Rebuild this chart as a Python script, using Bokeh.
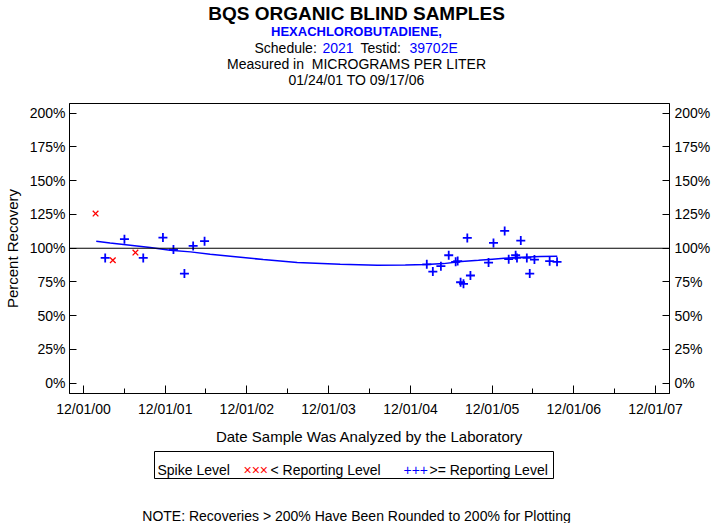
import pandas as pd
from bokeh.plotting import figure
from bokeh.layouts import column
from bokeh.models import (Range1d, FixedTicker, DatetimeTickFormatter, PrintfTickFormatter,
                          LinearAxis, Span)
from bokeh.core.properties import value
from bokeh.embed import file_html
from bokeh.resources import INLINE

FONT = "Liberation Sans"

# ---------------- texts ----------------
title_main = "BQS ORGANIC BLIND SAMPLES"
title_analyte = "HEXACHLOROBUTADIENE,"
schedule_label = "Schedule:"
schedule_value = "2021"
testid_label = "Testid:"
testid_value = "39702E"
units_line = "Measured in\u00a0 MICROGRAMS PER LITER"
period_line = "01/24/01 TO 09/17/06"
x_title = "Date Sample Was Analyzed by the Laboratory"
y_title = "Percent Recovery"
legend_spike = "Spike Level"
legend_below_sym = "\u00d7\u00d7\u00d7"
legend_below = "< Reporting Level"
legend_above_sym = "+++"
legend_above = ">= Reporting Level"
note_text = "NOTE: Recoveries > 200% Have Been Rounded to 200% for Plotting"

# ---------------- data ----------------
below_dates = ["2001-01-24", "2001-04-11", "2001-07-21"]
below_pct = [125.7, 91.1, 96.8]

above_dates = ["2001-03-08", "2001-06-02", "2001-08-25", "2001-11-21", "2002-01-07",
               "2002-02-25", "2002-04-05", "2002-05-26",
               "2005-02-12", "2005-03-11", "2005-04-16", "2005-05-21", "2005-06-21",
               "2005-06-30", "2005-07-13", "2005-07-26", "2005-08-12", "2005-08-26",
               "2005-11-15", "2005-12-07", "2006-01-26", "2006-02-13", "2006-03-16",
               "2006-03-22", "2006-04-08", "2006-05-05", "2006-05-18", "2006-06-08",
               "2006-08-15", "2006-09-17"]
above_pct = [92.8, 106.7, 92.8, 107.9, 99.0,
             81.2, 101.7, 105.2,
             88.1, 82.7, 86.7, 94.8, 89.9,
             90.5, 74.8, 73.6, 107.6, 79.8,
             89.4, 103.9, 112.8, 91.9, 94.8,
             92.8, 105.7, 92.8, 81.2, 91.6,
             90.4, 89.9]

fit_dates = ["2001-01-27", "2001-03-30", "2001-06-28", "2001-09-25", "2001-12-23",
             "2002-03-24", "2002-06-20", "2002-09-18", "2003-02-12", "2003-07-14",
             "2004-01-22", "2004-07-06", "2004-11-08", "2005-02-10", "2005-04-28",
             "2005-07-17", "2005-10-01", "2005-12-02", "2006-01-24", "2006-04-11",
             "2006-07-05", "2006-09-18"]
fit_pct = [105.2, 103.9, 102.2, 100.5, 98.5,
           97.3, 95.6, 94.1, 91.6, 89.4,
           88.1, 87.4, 87.6, 88.0, 88.6,
           90.2, 91.1, 91.9, 92.6, 93.3,
           93.8, 94.1]

reference_pct = 100
y_ticks = [0, 25, 50, 75, 100, 125, 150, 175, 200]
x_major_dates = ["2000-12-01", "2001-12-01", "2002-12-01", "2003-12-01",
                 "2004-12-01", "2005-12-01", "2006-12-01", "2007-12-01"]
x_minor_dates = ["2001-06-01", "2002-06-01", "2003-06-01", "2004-06-01",
                 "2005-06-01", "2006-06-01", "2007-06-01"]
x_start, x_end = "2000-09-29 12:00", "2008-02-01 12:00"
y_start, y_end = -7.6, 207.2


def ms(dates):
    return [pd.Timestamp(d).value / 1e6 for d in dates]


W, H = 713, 523
FL, FR, FT, FB = 69, 669, 103, 393      # frame edges on the page
MAIN_END = 425                          # page y where the main figure ends
HDR_H = FT - 1                          # header panel height
MAIN_H = MAIN_END - HDR_H               # main figure height
FTR_H = H - MAIN_END                    # footer panel height


def panel(height, y_top):
    f = figure(width=W, height=height, output_backend="svg", toolbar_location=None,
               x_range=Range1d(FL, FR), y_range=Range1d(y_top + height, y_top),
               x_axis_location=None, y_axis_location=None,
               min_border_left=FL, min_border_right=W - FR, min_border_top=0, min_border_bottom=0)
    f.grid.visible = False
    f.outline_line_color = None
    return f


def txt(f, items, size="14px", color="black", style="normal", align="left"):
    f.text(x=[i[1] for i in items], y=[i[2] for i in items], text=[i[0] for i in items],
           text_font=value(FONT), text_font_size=size, text_color=color,
           text_font_style=style, text_align=align, text_baseline="alphabetic")


# ---------------- header ----------------
hdr = panel(HDR_H, 0)
txt(hdr, [(title_main, 356, 13)], size="19px", style="bold", align="center")
txt(hdr, [(title_analyte, 356, 30.5)], size="13px", style="bold", color="blue", align="center")
txt(hdr, [(schedule_label, 254, 47.5), (testid_label, 360, 47.5)])
txt(hdr, [(schedule_value, 322, 47.5), (testid_value, 409, 47.5)], color="blue")
txt(hdr, [(units_line, 356, 63), (period_line, 356, 79.5)], align="center")

# ---------------- main plot ----------------
p = figure(width=W, height=MAIN_H, output_backend="svg", toolbar_location=None,
           x_axis_type="datetime",
           x_range=Range1d(pd.Timestamp(x_start).value / 1e6, pd.Timestamp(x_end).value / 1e6),
           y_range=Range1d(y_start, y_end),
           min_border_left=FL, min_border_right=W - FR, min_border_top=1,
           min_border_bottom=MAIN_H - 1 - (FB - FT))
p.grid.visible = False
p.outline_line_color = "black"
p.background_fill_color = "white"
p.border_fill_color = "white"

xa = p.xaxis[0]
xa.ticker = FixedTicker(ticks=ms(x_major_dates), minor_ticks=ms(x_minor_dates))
fmt = "%m/%d/%y"
xa.formatter = DatetimeTickFormatter(years=fmt, months=fmt, days=fmt, hours=fmt,
                                     strip_leading_zeros=False)
xa.major_tick_in = 8
xa.major_tick_out = 0
xa.minor_tick_in = 5
xa.minor_tick_out = 0
xa.major_label_standoff = 7

ya = p.yaxis[0]
ya.ticker = FixedTicker(ticks=y_ticks, minor_ticks=[])
ya.formatter = PrintfTickFormatter(format="%d%%")
ya.axis_label = y_title
ya.axis_label_text_font = FONT
ya.axis_label_text_font_size = "15px"
ya.axis_label_text_font_style = "normal"
ya.axis_label_text_color = "black"
ya.axis_label_standoff = 6
ya.major_tick_in = 7
ya.major_tick_out = 0
ya.minor_tick_in = 0
ya.minor_tick_out = 0
ya.major_label_standoff = 4

ra = LinearAxis(ticker=FixedTicker(ticks=y_ticks, minor_ticks=[]),
                formatter=PrintfTickFormatter(format="%d%%"),
                major_tick_in=7, major_tick_out=0, minor_tick_in=0, minor_tick_out=0,
                major_label_standoff=5)
p.add_layout(ra, "right")

for ax in [xa, ya, ra]:
    ax.axis_line_color = "black"
    ax.major_tick_line_color = "black"
    ax.minor_tick_line_color = "black"
    ax.major_label_text_font = FONT
    ax.major_label_text_font_size = "14px"
    ax.major_label_text_color = "black"

p.add_layout(Span(location=reference_pct, dimension="width", line_color="black", line_width=1.2))

p.line(ms(fit_dates), fit_pct, line_color="blue", line_width=1.5)
p.scatter(ms(above_dates), above_pct, marker="cross", size=9, line_color="blue", line_width=1.8)
p.scatter(ms(below_dates), below_pct, marker="x", size=8, line_color="red", line_width=1.3)

# ---------------- footer: x title, legend, note ----------------
ftr = panel(FTR_H, MAIN_END)
txt(ftr, [(x_title, 369, 436)], size="15px", align="center")
ftr.quad(left=[154], right=[553], top=[451], bottom=[478], fill_color=None,
         line_color="black", line_width=1)
txt(ftr, [(legend_spike, 157, 469), (legend_below, 270, 469), (legend_above, 429, 469)])
txt(ftr, [(legend_below_sym, 243, 469)], color="red")
txt(ftr, [(legend_above_sym, 403, 469)], color="blue")
txt(ftr, [(note_text, 356, 515)], align="center")

layout = column(hdr, p, ftr, spacing=0)
open("out.html", "w").write(file_html(layout, INLINE))
